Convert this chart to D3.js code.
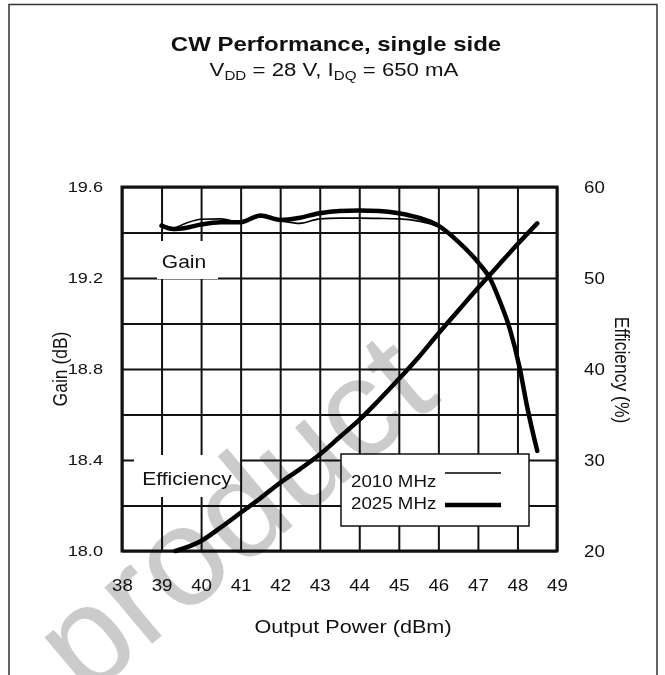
<!DOCTYPE html>
<html>
<head>
<meta charset="utf-8">
<script src="https://cdn.jsdelivr.net/npm/d3@7"></script>
<style>
  body { margin: 0; background: #fff; }
  svg text { font-family: "Liberation Sans", Arial, sans-serif; fill: #111; }
</style>
</head>
<body>
<div id="chart"></div>
<script>
// values
const xTicks = [38, 39, 40, 41, 42, 43, 44, 45, 46, 47, 48, 49];
const gainTicks = [18.0, 18.4, 18.8, 19.2, 19.6];
const effTicks = [20, 30, 40, 50, 60];

const powerGain = [39, 39.3, 39.6, 40, 40.5, 41, 41.5, 42, 42.5, 43, 43.5, 44, 44.5, 45, 45.5, 46, 46.5, 47, 47.3, 47.55, 47.8, 48.05, 48.25, 48.5];
const gain2010 = [19.435, 19.42, 19.44, 19.458, 19.46, 19.445, 19.468, 19.452, 19.44, 19.46, 19.463, 19.463, 19.462, 19.46, 19.45, 19.425, 19.36, 19.27, 19.20, 19.10, 18.98, 18.81, 18.63, 18.44];
const gain2025 = [19.43, 19.415, 19.42, 19.435, 19.445, 19.445, 19.475, 19.455, 19.465, 19.485, 19.495, 19.497, 19.495, 19.485, 19.465, 19.43, 19.36, 19.27, 19.20, 19.10, 18.98, 18.81, 18.63, 18.44];

const powerEff = [39.35, 40, 40.5, 41, 41.5, 42, 42.5, 43, 43.5, 44, 44.5, 45, 45.5, 46, 46.5, 47, 47.5, 48, 48.5];
const eff2010 = [20.0, 21.2, 22.7, 24.3, 25.9, 27.6, 29.1, 30.7, 32.6, 34.5, 36.7, 39.0, 41.4, 44.0, 46.5, 49.0, 51.4, 53.8, 56.1];
const eff2025 = [20.0, 21.1, 22.6, 24.2, 25.8, 27.5, 29.0, 30.6, 32.5, 34.4, 36.6, 38.9, 41.3, 43.9, 46.4, 48.9, 51.3, 53.7, 56.0];

const seriesNames = ["2010 MHz", "2025 MHz"];

const W = 665, H = 675;
const plotL = 122, plotR = 557, plotT = 187, plotB = 551;
const sx = 1.17; // text in the source is stretched horizontally

const svg = d3.select("#chart").append("svg")
    .attr("width", W)
    .attr("height", H);

const x = d3.scaleLinear().domain([38, 49]).range([plotL, plotR]);
const yGain = d3.scaleLinear().domain([18.0, 19.6]).range([plotB, plotT]);
const yEff = d3.scaleLinear().domain([20, 60]).range([plotB, plotT]);

// page frame
svg.append("path")
    .attr("d", `M9,${H} V4.5 H657 V${H}`)
    .attr("fill", "none")
    .attr("stroke", "#333")
    .attr("stroke-width", 1.5);

function label(txt, px, py, size, opts = {}) {
    const t = svg.append("text")
        .attr("transform", `translate(${px},${py}) scale(${sx},1)`)
        .attr("font-size", size + "px")
        .attr("text-anchor", opts.anchor || "middle")
        .attr("font-weight", opts.weight || "normal");
    t.text(txt);
    return t;
}

// title
label("CW Performance, single side", 336, 51, 20.5, { weight: "bold" });
const sub = svg.append("text")
    .attr("transform", `translate(334,76) scale(${sx},1)`)
    .attr("font-size", "19px")
    .attr("text-anchor", "middle");
sub.append("tspan").text("V");
sub.append("tspan").attr("font-size", "13px").attr("dy", 4).text("DD");
sub.append("tspan").attr("dy", -4).text(" = 28 V, I");
sub.append("tspan").attr("font-size", "13px").attr("dy", 4).text("DQ");
sub.append("tspan").attr("dy", -4).text(" = 650 mA");

// grid
const grid = svg.append("g");
grid.append("g")
    .attr("transform", `translate(0,${plotB})`)
    .call(d3.axisBottom(x).tickValues(xTicks).tickSize(-(plotB - plotT)).tickFormat(""))
    .call(g => g.select(".domain").remove());
grid.append("g")
    .attr("transform", `translate(${plotL},0)`)
    .call(d3.axisLeft(yGain).tickValues(d3.range(0, 9).map(i => 18 + i * 0.2)).tickSize(-(plotR - plotL)).tickFormat(""))
    .call(g => g.select(".domain").remove());
grid.selectAll("line").attr("stroke", "#111").attr("stroke-width", 2);

// white boxes behind inline labels
svg.append("rect").attr("x", 157).attr("y", 241).attr("width", 61).attr("height", 38).attr("fill", "#fff");
svg.append("rect").attr("x", 134).attr("y", 455).attr("width", 106).attr("height", 42).attr("fill", "#fff");

svg.append("rect")
    .attr("x", plotL).attr("y", plotT)
    .attr("width", plotR - plotL).attr("height", plotB - plotT)
    .attr("fill", "none")
    .attr("stroke", "#111")
    .attr("stroke-width", 3);

label("Gain", 184, 268, 18);
label("Efficiency", 187, 485, 18);

// curves
const gainLine = d3.line().x(d => x(d[0])).y(d => yGain(d[1])).curve(d3.curveMonotoneX);
const effLine = d3.line().x(d => x(d[0])).y(d => yEff(d[1])).curve(d3.curveMonotoneX);
const curves = svg.append("g").attr("fill", "none").attr("stroke", "#000").attr("stroke-linecap", "round");

curves.append("path").attr("d", gainLine(d3.zip(powerGain, gain2025))).attr("stroke-width", 4.5);
curves.append("path").attr("d", gainLine(d3.zip(powerGain, gain2010))).attr("stroke-width", 1.6);
curves.append("path").attr("d", effLine(d3.zip(powerEff, eff2025))).attr("stroke-width", 4.5);
curves.append("path").attr("d", effLine(d3.zip(powerEff, eff2010))).attr("stroke-width", 1.6);

// axis labels
const xAxis = svg.append("g")
    .attr("transform", `translate(0,${plotB})`)
    .call(d3.axisBottom(x).tickValues(xTicks).tickSize(0).tickPadding(29));
const yAxisL = svg.append("g")
    .attr("transform", `translate(${plotL},0)`)
    .call(d3.axisLeft(yGain).tickValues(gainTicks).tickSize(0).tickPadding(19).tickFormat(d3.format(".1f")));
const yAxisR = svg.append("g")
    .attr("transform", `translate(${plotR},0)`)
    .call(d3.axisRight(yEff).tickValues(effTicks).tickSize(0).tickPadding(27));
[xAxis, yAxisL, yAxisR].forEach(a => {
    a.select(".domain").remove();
    a.selectAll("text")
        .attr("font-size", "16px")
        .attr("font-family", "Liberation Sans, Arial, sans-serif")
        .attr("fill", "#111")
        .attr("transform", `scale(${sx},1)`);
});
yAxisL.selectAll("text").attr("font-size", "15.5px").attr("x", -19 / sx);
yAxisR.selectAll("text").attr("x", 27 / sx);

label("Output Power (dBm)", 353, 633, 18.5);
svg.append("text")
    .attr("transform", `translate(67,369) rotate(-90) scale(1,${sx})`)
    .attr("font-size", "17.5px")
    .attr("text-anchor", "middle")
    .text("Gain (dB)");
svg.append("text")
    .attr("transform", `translate(615,370) rotate(90) scale(1,${sx})`)
    .attr("font-size", "17.5px")
    .attr("text-anchor", "middle")
    .text("Efficiency (%)");

// legend
const leg = svg.append("g");
leg.append("rect")
    .attr("x", 341).attr("y", 454).attr("width", 188).attr("height", 72)
    .attr("fill", "#fff").attr("stroke", "#111").attr("stroke-width", 1.5);
seriesNames.forEach((name, i) => {
    label(name, 351, 487 + i * 21.5, 16, { anchor: "start" });
    leg.append("line")
        .attr("x1", 445).attr("x2", 501)
        .attr("y1", 473 + i * 32).attr("y2", 473 + i * 32)
        .attr("stroke", "#000")
        .attr("stroke-width", i === 0 ? 1.6 : 4.5);
});

// faint watermark over the sheet
svg.append("text")
    .attr("transform", "translate(85,700) rotate(-40)")
    .attr("font-size", "140px")
    .style("fill", "#cbcbcb")
    .style("mix-blend-mode", "multiply")
    .text("product");
</script>
</body>
</html>
